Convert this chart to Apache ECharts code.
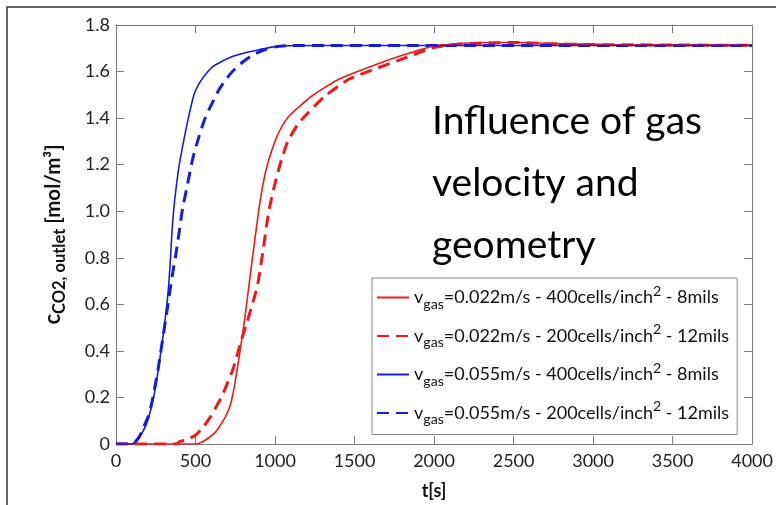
<!DOCTYPE html>
<html>
<head>
<meta charset="utf-8">
<script src="https://cdn.jsdelivr.net/npm/echarts@6/dist/echarts.min.js"></script>
<style>html,body{margin:0;padding:0;background:#fff}#c{width:776px;height:505px}</style>
</head>
<body>
<div id="c"></div>
<script>
// ---- data (t [s], c [mol/m3]) ----
const redSolid = [[0,0],[500,0],[545,0.01],[590,0.03],[624,0.05],[655,0.08],[690,0.12],[720,0.17],[745,0.25],[778,0.39],[808,0.53],[835,0.675],[858,0.8],[893,0.98],[920,1.1],[952,1.2],[1000,1.3],[1035,1.354],[1090,1.41],[1232,1.495],[1398,1.566],[1606,1.623],[1815,1.673],[2000,1.71],[2150,1.72],[2300,1.725],[2500,1.725],[2800,1.72],[3100,1.716],[3500,1.714],[4000,1.713]];
const redDashed = [[0,0],[380,0],[400,0.01],[450,0.02],[504,0.04],[545,0.07],[587,0.11],[630,0.16],[670,0.21],[705,0.27],[735,0.32],[765,0.39],[790,0.45],[816,0.505],[857,0.6],[888,0.675],[918,0.8],[961,1.0],[1000,1.12],[1040,1.22],[1080,1.3],[1150,1.38],[1211,1.425],[1315,1.495],[1461,1.566],[1648,1.616],[1815,1.658],[1981,1.70],[2100,1.715],[2300,1.722],[2500,1.725],[2700,1.72],[3000,1.716],[3500,1.714],[4000,1.713]];
const blueSolid = [[0,0],[100,0],[125,0.01],[145,0.025],[166,0.05],[188,0.08],[208,0.12],[230,0.18],[250,0.25],[266,0.32],[281,0.39],[295,0.46],[308,0.53],[320,0.6],[331,0.68],[341,0.78],[351,0.9],[362,1.0],[378,1.1],[398,1.2],[425,1.3],[455,1.4],[490,1.5],[524,1.55],[565,1.59],[607,1.62],[670,1.645],[732,1.665],[820,1.682],[900,1.694],[980,1.705],[1065,1.711],[1500,1.712],[4000,1.712]];
const blueDashed = [[0,0],[100,0],[120,0.008],[140,0.025],[160,0.05],[182,0.085],[204,0.12],[226,0.18],[246,0.25],[264,0.32],[280,0.39],[296,0.46],[311,0.53],[327,0.6],[343,0.675],[358,0.74],[373,0.8],[395,0.9],[416,1.0],[448,1.11],[483,1.227],[524,1.326],[555,1.39],[587,1.44],[649,1.524],[690,1.565],[732,1.60],[795,1.64],[857,1.67],[930,1.692],[1003,1.706],[1100,1.712],[4000,1.712]];

const speeds = ['0.022', '0.022', '0.055', '0.055'];
const cells = ['400', '200', '400', '200'];
const mils = ['8', '12', '8', '12'];
const seriesNames = speeds.map((s, i) => 'vgas=' + s + 'm/s - ' + cells[i] + 'cells/inch2 - ' + mils[i] + 'mils');
const xTicks = { min: 0, max: 4000, interval: 500 };
const yTicks = { min: 0, max: 1.8, interval: 0.2 };
const annotation = ['Influence of gas', 'velocity and', 'geometry'];

const RED = '#f21818', BLUE = '#1a1ae6';
const AX = '#7a7a7a';
const FONT = 'Lato';

function mkSeries(name, data, color, dashed) {
  return {
    name: name, type: 'line', data: data, showSymbol: false, symbol: 'none',
    smooth: 0.2,
    lineStyle: { color: color, width: dashed ? 3 : 1.6, type: dashed ? [12, 7] : 'solid' },
    itemStyle: { color: color },
    z: dashed ? 3 : 4
  };
}
function tick() {
  return { show: true, inside: true, length: 8, lineStyle: { color: AX, width: 1 } };
}

const chart = echarts.init(document.getElementById('c'), null, { renderer: 'canvas' });
chart.setOption({
  animation: false,
  backgroundColor: '#fff',
  grid: { left: 116, right: 19, top: 25, bottom: 57, containLabel: false },
  title: {
    text: annotation.join('\n'), left: 432, top: 90, padding: 0,
    textStyle: { fontFamily: FONT, fontSize: 39, fontWeight: 'normal', color: '#000', lineHeight: 62 }
  },
  graphic: [{
    type: 'rect', silent: true, z: 100,
    shape: { x: 7, y: 7, width: 820, height: 600 },
    style: { fill: 'none', stroke: '#333', lineWidth: 1.5 }
  }],
  legend: {
    orient: 'vertical', left: 372, top: 278,
    padding: [6, 8, 8, 4], itemGap: 11.5, itemWidth: 32, itemHeight: 14,
    backgroundColor: '#fff', borderColor: '#8a8a8a', borderWidth: 1, borderRadius: 0,
    itemStyle: { opacity: 0 },
    data: seriesNames,
    formatter: function (name) {
      const i = seriesNames.indexOf(name);
      return '{t|v}{sub|gas}{t|=' + speeds[i] + 'm/s - ' + cells[i] + 'cells/inch}{sup|2}{t| - ' + mils[i] + 'mils}';
    },
    textStyle: {
      fontFamily: FONT, color: '#111',
      rich: {
        t: { fontFamily: FONT, fontSize: 18, color: '#111' },
        sub: { fontFamily: FONT, fontSize: 14.2, color: '#111', padding: [13, 0, 0, 0] },
        sup: { fontFamily: FONT, fontSize: 14.2, color: '#111', padding: [0, 0, 13, 0] }
      }
    }
  },
  xAxis: [
    {
      type: 'value', min: xTicks.min, max: xTicks.max, interval: xTicks.interval,
      position: 'bottom',
      axisLine: { show: true, onZero: false, lineStyle: { color: AX, width: 1 } },
      axisTick: tick(),
      splitLine: { show: false },
      name: 't[s]', nameLocation: 'middle', nameGap: 38,
      nameTextStyle: { fontFamily: FONT, fontSize: 18, fontWeight: 'bold', color: '#111' },
      axisLabel: { show: true, margin: 8, fontFamily: FONT, fontSize: 18, color: '#222', formatter: v => String(v) }
    },
    {
      type: 'value', min: xTicks.min, max: xTicks.max, interval: xTicks.interval,
      position: 'top',
      axisLine: { show: true, onZero: false, lineStyle: { color: AX, width: 1 } },
      axisTick: tick(),
      splitLine: { show: false },
      axisLabel: { show: false }
    }
  ],
  yAxis: [
    {
      type: 'value', min: yTicks.min, max: yTicks.max, interval: yTicks.interval,
      position: 'left',
      axisLine: { show: true, onZero: false, lineStyle: { color: AX, width: 1 } },
      axisTick: tick(),
      splitLine: { show: false },
      name: '{c|c}{s|CO2, outlet}{u| [mol/m³]}', nameLocation: 'middle', nameGap: 48, nameRotate: 90,
      nameTextStyle: {
        fontFamily: FONT, fontWeight: 'bold', color: '#111',
        rich: {
          c: { fontFamily: FONT, fontSize: 22, fontWeight: 'bold', color: '#111' },
          s: { fontFamily: FONT, fontSize: 16.5, fontWeight: 'bold', color: '#111', padding: [13, 0, 0, 0] },
          u: { fontFamily: FONT, fontSize: 20.5, fontWeight: 'bold', color: '#111' }
        }
      },
      axisLabel: {
        show: true, margin: 6, fontFamily: FONT, fontSize: 18, color: '#222',
        formatter: v => (v === 0 ? '0' : v.toFixed(1))
      }
    },
    {
      type: 'value', min: yTicks.min, max: yTicks.max, interval: yTicks.interval,
      position: 'right',
      axisLine: { show: true, onZero: false, lineStyle: { color: AX, width: 1 } },
      axisTick: tick(),
      splitLine: { show: false },
      axisLabel: { show: false }
    }
  ],
  series: [
    mkSeries(seriesNames[0], redSolid, RED, false),
    mkSeries(seriesNames[1], redDashed, RED, true),
    mkSeries(seriesNames[2], blueSolid, BLUE, false),
    mkSeries(seriesNames[3], blueDashed, BLUE, true)
  ]
});
</script>
</body>
</html>
